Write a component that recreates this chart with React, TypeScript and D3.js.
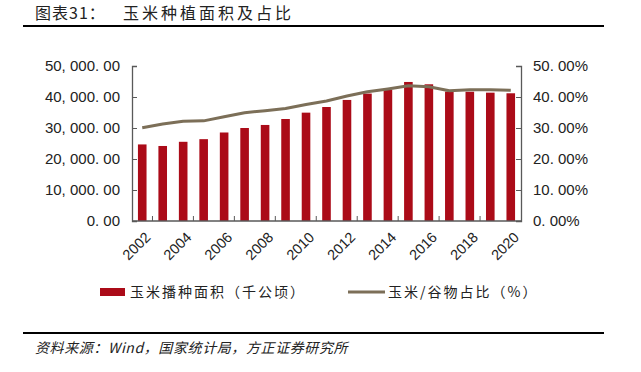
import React, { useRef, useEffect } from "react";
import * as d3 from "d3";

const years = [
  "2002", "2003", "2004", "2005", "2006", "2007", "2008", "2009", "2010", "2011",
  "2012", "2013", "2014", "2015", "2016", "2017", "2018", "2019", "2020",
];
// 玉米播种面积（千公顷）
const area = [
  24700, 24200, 25550, 26400, 28550, 30000, 30980, 32900, 34950, 36770,
  39050, 41100, 42280, 44850, 44100, 41750, 41700, 41400, 41200,
];
// 玉米/谷物占比（%）
const share = [
  30.1, 31.3, 32.2, 32.3, 33.6, 34.9, 35.6, 36.3, 37.6, 38.7,
  40.3, 41.7, 42.6, 43.6, 43.3, 42.0, 42.3, 42.3, 42.2,
];
const leftTicks = [0, 10000, 20000, 30000, 40000, 50000];
const rightTicks = [0, 10, 20, 30, 40, 50];

const W = 641;
const H = 372;
const barColor = "#ab0b18";
const lineColor = "#7c6f58";
const axisColor = "#595959";
const cjk = "'Noto Sans CJK SC', sans-serif";
const num = "'Liberation Sans', Arial, sans-serif";

const App = () => {
  const svgRef = useRef(null);

  useEffect(() => {
    const svg = d3.select(svgRef.current);
    svg.selectAll("*").remove();

    const margin = { top: 66, right: 120, bottom: 151, left: 132 };
    const innerW = W - margin.left - margin.right;
    const innerH = H - margin.top - margin.bottom;

    const x = d3.scaleBand().domain(years).range([0, innerW]).paddingInner(0.58).paddingOuter(0.29);
    const y = d3.scaleLinear().domain([0, 50000]).range([innerH, 0]);
    const y2 = d3.scaleLinear().domain([0, 50]).range([innerH, 0]);

    // 标题
    svg.append("text")
      .attr("x", 35).attr("y", 19)
      .attr("font-family", cjk).attr("font-size", 16).attr("letter-spacing", 1)
      .attr("fill", "#222")
      .text("图表31：");
    svg.append("text")
      .attr("x", 123).attr("y", 19)
      .attr("font-family", cjk).attr("font-size", 16)
      .attr("letter-spacing", 3)
      .attr("fill", "#222")
      .text("玉米种植面积及占比");
    svg.append("line")
      .attr("x1", 23).attr("x2", 604).attr("y1", 26).attr("y2", 26)
      .attr("stroke", "#000").attr("stroke-width", 2.2);

    const g = svg.append("g").attr("transform", `translate(${margin.left},${margin.top})`);

    // 柱子
    g.selectAll("rect")
      .data(area)
      .enter()
      .append("rect")
      .attr("x", (_, i) => x(years[i]))
      .attr("y", (d) => y(d))
      .attr("width", x.bandwidth())
      .attr("height", (d) => innerH - y(d))
      .attr("fill", barColor);

    // 折线
    const line = d3.line()
      .x((_, i) => x(years[i]) + x.bandwidth() / 2)
      .y((d) => y2(d));
    g.append("path")
      .datum(share)
      .attr("fill", "none")
      .attr("stroke", lineColor)
      .attr("stroke-width", 3)
      .attr("stroke-linejoin", "round")
      .attr("d", line);

    // 坐标轴
    const fmtL = (d) => d3.format(",.2f")(d).replace(/([,.])/g, "$1 ");
    const fmtR = (d) => d3.format(".2f")(d).replace(".", ". ") + "%";

    const axL = g.append("g").call(
      d3.axisLeft(y).tickValues(leftTicks).tickSize(-5).tickPadding(12).tickFormat(fmtL)
    );
    const axR = g.append("g").attr("transform", `translate(${innerW},0)`).call(
      d3.axisRight(y2).tickValues(rightTicks).tickSize(-5).tickPadding(12).tickFormat(fmtR)
    );
    [axL, axR].forEach((a) => {
      a.select(".domain").attr("stroke", axisColor).attr("stroke-width", 1.3);
      a.selectAll(".tick line").attr("stroke", axisColor);
      a.selectAll("text").attr("font-family", num).attr("font-size", 15).attr("fill", "#222");
    });

    const step = x.step();
    const axB = g.append("g").attr("transform", `translate(0,${innerH})`);
    axB.append("line")
      .attr("x1", 0).attr("x2", innerW)
      .attr("stroke", axisColor).attr("stroke-width", 1.3);
    axB.selectAll(".tk")
      .data(years.filter((_, i) => i % 2 === 1))
      .enter()
      .append("line")
      .attr("x1", (d) => x(d) - (step - x.bandwidth()) / 2)
      .attr("x2", (d) => x(d) - (step - x.bandwidth()) / 2)
      .attr("y1", 0).attr("y2", -5)
      .attr("stroke", axisColor);
    axB.selectAll(".lb")
      .data(years.filter((_, i) => i % 2 === 0))
      .enter()
      .append("text")
      .attr("transform", (d) => `translate(${x(d) + x.bandwidth() / 2 + 2},${10}) rotate(-45)`)
      .attr("text-anchor", "end")
      .attr("dy", "0.7em")
      .attr("font-family", num).attr("font-size", 14.5)
      .attr("fill", "#222")
      .text((d) => d);

    // 图例
    const lg = svg.append("g").attr("transform", "translate(0,292)");
    lg.append("rect").attr("x", 100).attr("y", -4).attr("width", 25).attr("height", 8).attr("fill", barColor);
    lg.append("text")
      .attr("x", 130).attr("y", 5)
      .attr("font-family", cjk).attr("font-size", 14).attr("letter-spacing", 2)
      .attr("fill", "#222")
      .text("玉米播种面积（千公顷）");
    lg.append("line").attr("x1", 348).attr("x2", 385).attr("y1", 0).attr("y2", 0)
      .attr("stroke", lineColor).attr("stroke-width", 3);
    lg.append("text")
      .attr("x", 388).attr("y", 5)
      .attr("font-family", cjk).attr("font-size", 14).attr("letter-spacing", 2)
      .attr("fill", "#222")
      .text("玉米/谷物占比（%）");

    // 来源
    svg.append("line")
      .attr("x1", 23).attr("x2", 604).attr("y1", 333).attr("y2", 333)
      .attr("stroke", "#000").attr("stroke-width", 2.2);
    svg.append("text")
      .attr("x", 35).attr("y", 353)
      .attr("font-family", cjk).attr("font-size", 14)
      .attr("font-style", "italic").attr("letter-spacing", 0.6)
      .attr("fill", "#222")
      .text("资料来源：Wind，国家统计局，方正证券研究所");
  }, []);

  return (
    <svg
      ref={svgRef}
      width={W}
      height={H}
      style={{ position: "absolute", left: 0, top: 0, background: "#fff" }}
    />
  );
};

export default App;
